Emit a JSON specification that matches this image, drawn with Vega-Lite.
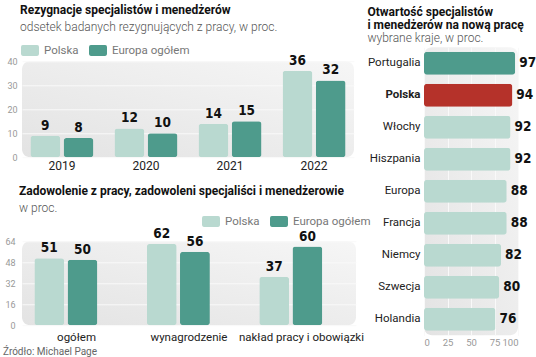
{
  "$schema": "https://vega.github.io/schema/vega-lite/v6.json",
  "background": "white",
  "padding": {"left": 2, "top": 4, "right": 0, "bottom": 0},
  "config": {
    "font": "Roboto",
    "view": {"stroke": null, "cornerRadius": 8, "fill": {"gradient": "linear", "x1": 0, "y1": 1, "x2": 1, "y2": 0, "stops": [{"offset": 0, "color": "#e3e3e3"}, {"offset": 1, "color": "#f6f6f6"}]}},
    "axis": {"domain": false, "ticks": false, "labelFont": "Roboto", "gridColor": "#f9f9f9", "gridWidth": 1},
    "title": {"font": "Roboto", "fontSize": 12, "fontWeight": "bold", "color": "#111", "anchor": "start", "subtitleFont": "Roboto", "subtitleFontSize": 12, "subtitleColor": "#555", "subtitleFontWeight": 300, "subtitlePadding": 5},
    "legend": {"labelFont": "Roboto", "labelFontSize": 11.5, "labelColor": "#777", "symbolType": "M-0.8,-0.6L0.8,-0.6Q1,-0.6 1,-0.4L1,0.4Q1,0.6 0.8,0.6L-0.8,0.6Q-1,0.6 -1,0.4L-1,-0.4Q-1,-0.6 -0.8,-0.6Z", "symbolSize": 324, "symbolStrokeWidth": 0, "labelOffset": 5, "columnPadding": 10, "title": null}
  },
  "datasets": {
    "rezygnacje": [
      {"rok": "2019", "grupa": "Polska", "wartosc": 9},
      {"rok": "2019", "grupa": "Europa ogółem", "wartosc": 8},
      {"rok": "2020", "grupa": "Polska", "wartosc": 12},
      {"rok": "2020", "grupa": "Europa ogółem", "wartosc": 10},
      {"rok": "2021", "grupa": "Polska", "wartosc": 14},
      {"rok": "2021", "grupa": "Europa ogółem", "wartosc": 15},
      {"rok": "2022", "grupa": "Polska", "wartosc": 36},
      {"rok": "2022", "grupa": "Europa ogółem", "wartosc": 32}
    ],
    "zadowolenie": [
      {"kategoria": "ogółem", "grupa": "Polska", "wartosc": 51},
      {"kategoria": "ogółem", "grupa": "Europa ogółem", "wartosc": 50},
      {"kategoria": "wynagrodzenie", "grupa": "Polska", "wartosc": 62},
      {"kategoria": "wynagrodzenie", "grupa": "Europa ogółem", "wartosc": 56},
      {"kategoria": "nakład pracy i obowiązki", "grupa": "Polska", "wartosc": 37},
      {"kategoria": "nakład pracy i obowiązki", "grupa": "Europa ogółem", "wartosc": 60}
    ],
    "otwartosc": [
      {"kraj": "Portugalia", "wartosc": 97},
      {"kraj": "Polska", "wartosc": 94},
      {"kraj": "Włochy", "wartosc": 92},
      {"kraj": "Hiszpania", "wartosc": 92},
      {"kraj": "Europa", "wartosc": 88},
      {"kraj": "Francja", "wartosc": 88},
      {"kraj": "Niemcy", "wartosc": 82},
      {"kraj": "Szwecja", "wartosc": 80},
      {"kraj": "Holandia", "wartosc": 76}
    ]
  },
  "title": {"text": "Źródło: Michael Page", "orient": "bottom", "anchor": "start", "fontSize": 10, "fontWeight": "normal", "color": "#666", "offset": -10, "dx": -2},
  "spacing": -4,
  "center": true,
  "hconcat": [
    {
      "spacing": 14,
      "resolve": {"scale": {"color": "independent"}, "legend": {"color": "independent"}},
      "vconcat": [
        {
          "width": 332,
          "height": 96,
          "title": {"text": "Rezygnacje specjalistów i menedżerów", "subtitle": "odsetek badanych rezygnujących z pracy, w proc.", "offset": 7, "frame": "group", "dx": -2},
          "data": {"name": "rezygnacje"},
          "encoding": {
            "x": {"field": "rok", "type": "nominal", "title": null, "scale": {"paddingInner": 0.25, "paddingOuter": 0.1}, "axis": {"labelAngle": 0, "labelFontSize": 12, "labelColor": "#222", "labelPadding": 3}},
            "xOffset": {"field": "grupa", "type": "nominal", "sort": ["Polska", "Europa ogółem"], "scale": {"paddingInner": 0.1}},
            "y": {"field": "wartosc", "type": "quantitative", "title": null, "scale": {"domain": [0, 40]}, "axis": {"values": [0, 10, 20, 30, 40], "labelFontSize": 9, "labelColor": "#999", "labelPadding": 5, "grid": true}}
          },
          "layer": [
            {
              "mark": {"type": "bar", "cornerRadius": 3},
              "encoding": {
                "color": {"field": "grupa", "type": "nominal", "scale": {"domain": ["Polska", "Europa ogółem"], "range": ["#b9d9d0", "#4e9b8c"]}, "legend": {"orient": "none", "direction": "horizontal", "legendX": -1, "legendY": -20}}
              }
            },
            {
              "mark": {"type": "text", "baseline": "bottom", "dy": -3, "font": "DejaVu Sans Condensed, Roboto", "fontWeight": "bold", "fontSize": 13.5, "color": "#111"},
              "encoding": {"text": {"field": "wartosc", "type": "quantitative"}}
            }
          ]
        },
        {
          "width": 334,
          "height": 84,
          "title": {"text": "Zadowolenie z pracy, zadowoleni specjaliści i menedżerowie", "subtitle": "w proc.", "offset": -3, "frame": "group", "dx": -3},
          "data": {"name": "zadowolenie"},
          "encoding": {
            "x": {"field": "kategoria", "type": "nominal", "title": null, "sort": ["ogółem", "wynagrodzenie", "nakład pracy i obowiązki"], "scale": {"paddingInner": 0.25, "paddingOuter": 0.11}, "axis": {"labelAngle": 0, "labelFontSize": 11.5, "labelColor": "#222", "labelPadding": 6}},
            "xOffset": {"field": "grupa", "type": "nominal", "sort": ["Polska", "Europa ogółem"], "scale": {"paddingInner": 0.12}},
            "y": {"field": "wartosc", "type": "quantitative", "title": null, "scale": {"domain": [0, 64]}, "axis": {"values": [0, 16, 32, 48, 64], "labelFontSize": 9, "labelColor": "#999", "labelPadding": 7, "grid": true}}
          },
          "layer": [
            {
              "mark": {"type": "bar", "cornerRadius": 3},
              "encoding": {
                "color": {"field": "grupa", "type": "nominal", "scale": {"domain": ["Polska", "Europa ogółem"], "range": ["#b9d9d0", "#4e9b8c"]}, "legend": {"orient": "none", "direction": "horizontal", "legendX": 180, "legendY": -29}}
              }
            },
            {
              "mark": {"type": "text", "baseline": "bottom", "dy": -3, "font": "DejaVu Sans Condensed, Roboto", "fontWeight": "bold", "fontSize": 13.5, "color": "#111"},
              "encoding": {"text": {"field": "wartosc", "type": "quantitative"}}
            }
          ]
        }
      ]
    },
    {
      "width": 94,
      "height": 288,
      "title": {"text": ["Otwartość  specjalistów", "i menedżerów na nową pracę"], "subtitle": "wybrane kraje, w proc.", "lineHeight": 13, "subtitlePadding": 1, "offset": 2},
      "data": {"name": "otwartosc"},
      "encoding": {
        "y": {"field": "kraj", "type": "nominal", "title": null, "sort": null, "scale": {"paddingInner": 0.28, "paddingOuter": 0.14}, "axis": {"labelFontSize": 11.5, "labelColor": "#222", "labelPadding": 4, "labelFontWeight": {"condition": {"test": "datum.value === 'Polska'", "value": "bold"}, "value": "normal"}}},
        "x": {"field": "wartosc", "type": "quantitative", "title": " ", "scale": {"domain": [0, 100]}, "axis": {"values": [0, 25, 50, 75, 100], "labelFontSize": 9.5, "labelColor": "#999", "labelPadding": 2, "grid": true, "titleFontSize": 10, "titlePadding": 0}}
      },
      "layer": [
        {
          "mark": {"type": "bar", "cornerRadius": 3},
          "encoding": {
            "color": {"condition": [{"test": "datum.kraj === 'Polska'", "value": "#b5322a"}, {"test": "datum.kraj === 'Portugalia'", "value": "#4e9b8c"}], "value": "#b9d9d0"}
          }
        },
        {
          "mark": {"type": "text", "align": "left", "baseline": "middle", "dx": 4, "font": "DejaVu Sans Condensed, Roboto", "fontWeight": "bold", "fontSize": 13.5, "color": "#111"},
          "encoding": {"text": {"field": "wartosc", "type": "quantitative"}}
        }
      ]
    }
  ]
}
